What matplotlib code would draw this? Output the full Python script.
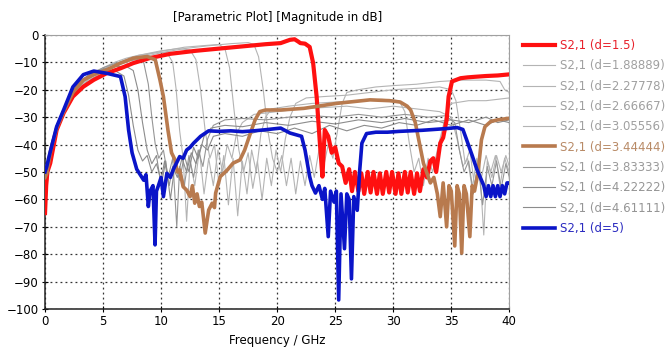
import matplotlib.pyplot as plt
from matplotlib.lines import Line2D

# S2,1 curves (frequency in GHz, magnitude in dB)
f_d150 = [0, 0.1, 0.2, 0.45, 1.0, 1.6, 2.4, 3.3, 4.2, 5.3, 6.5, 7.6, 9.0, 10.8, 13, 15, 17, 19, 20.3,
          21.1, 21.5, 21.8, 22.0, 22.4, 22.8, 23.1, 23.4, 23.7, 23.9, 24.1, 24.4, 24.7, 25.0, 25.3, 25.6,
          25.9, 26.2, 26.45, 26.7, 27.0, 27.25, 27.5, 27.8, 28.05, 28.3, 28.6, 28.85, 29.1, 29.4, 29.65,
          29.9, 30.2, 30.45, 30.7, 31.0, 31.25, 31.5, 31.8, 32.05, 32.3, 32.6, 32.9, 33.2, 33.45, 33.7,
          34.05, 34.3, 34.6, 34.77, 35.06, 35.8, 36.4, 37, 38, 39, 40]
s_d150 = [-65, -55, -50, -46.8, -34.7, -28.5, -22.5, -18.9, -16.4, -14, -12.2, -10.3, -8.5, -6.9, -5.8, -5,
          -4.2, -3.4, -3, -1.8, -1.6, -2.4, -3, -3.2, -4.4, -10.3, -22.5, -40.7, -51.7, -34.7, -37, -43,
          -41, -46.8, -48, -54, -49, -57, -50, -57, -50.5, -58, -50, -57.5, -50, -58, -50.5, -58, -50, -57.5,
          -50, -58, -50.5, -58, -50, -57.5, -50, -58, -50.5, -57, -49, -52, -46, -45, -50, -39.5, -37.5,
          -31, -22.5, -17, -15.8, -15.5, -15.3, -15, -14.8, -14.4]

f_d189 = [0, 0.5, 1, 2, 3, 4, 5, 6, 7, 8, 10, 12, 14, 16, 17.5, 18.0, 18.4, 18.8, 19.2, 19.6, 20, 20.4,
          20.8, 21.2, 21.6, 22, 22.4, 22.8, 23.2, 23.6, 24, 24.4, 24.8, 25.2, 25.6, 26, 27, 28.5, 30, 32,
          34, 36, 38, 39.2, 39.6, 40]
s_d189 = [-60, -45, -35, -25, -19.5, -16, -13.5, -11.5, -10, -8.5, -6.5, -5, -4, -3.2, -2.8, -3.5, -8,
          -20, -35, -45, -50, -44, -55, -45, -58, -46, -55, -44, -52, -42, -48, -40, -45, -35, -25, -21,
          -20, -19, -18.5, -18, -17, -16.5, -16.5, -17, -20, -21]

f_d228 = [0, 0.5, 1, 2, 3, 4, 5, 6, 7, 8, 10, 12, 14, 15, 15.5, 15.9, 16.3, 16.7, 17.1, 17.5, 17.9, 18.3,
          18.7, 19.1, 19.5, 19.9, 20.3, 20.7, 21.1, 21.6, 22.5, 24, 26, 28, 30, 32, 34, 35, 35.4, 35.8,
          36.2, 36.6, 37.0, 37.4, 37.8, 38.1, 38.5, 38.9, 39.3, 39.7, 40]
s_d228 = [-57, -44, -34, -24.5, -19, -15.5, -13, -11, -9.5, -8, -6, -4.5, -3.8, -3.5, -5, -12, -28, -42,
          -50, -43, -56, -46, -60, -45, -55, -42, -50, -38, -30, -25, -23, -22.5, -22, -21, -20, -19.5,
          -19, -20, -24, -35, -47, -42, -55, -45, -73, -46, -52, -44, -50, -44, -48]

f_d267 = [0, 0.5, 1, 2, 3, 4, 5, 6, 7, 8, 10, 11.5, 12.5, 13.0, 13.4, 13.8, 14.2, 14.6, 15.0, 15.4, 15.8,
          16.2, 16.6, 17.0, 17.4, 17.8, 18.2, 18.6, 19.0, 19.5, 21, 23, 25, 27, 29, 30.5, 31, 31.4, 31.8,
          32.2, 32.6, 33, 33.4, 33.8, 34.2, 34.6, 35, 36.5, 38, 40]
s_d267 = [-55, -43, -34, -24, -18.5, -15, -12.5, -10.5, -9, -7.5, -5.8, -5, -5.5, -9, -20, -35, -45, -40,
          -55, -44, -62, -45, -66, -46, -58, -42, -50, -36, -30, -27, -26, -25, -24.5, -24, -23.5, -24,
          -28, -40, -50, -45, -55, -45, -50, -42, -35, -28, -25, -24, -24, -23]

f_d306 = [0, 0.5, 1, 2, 3, 4, 5, 6, 7, 8, 9.5, 10.5, 11.0, 11.3, 11.6, 11.9, 12.2, 12.5, 12.9, 13.3, 13.7,
          14.1, 14.5, 14.9, 15.3, 15.7, 16.1, 16.5, 17, 18, 20, 22, 24, 26, 28, 30, 32, 34, 35, 35.5, 36,
          36.4, 36.8, 37.2, 37.6, 38, 38.4, 38.8, 39.2, 39.6, 40]
s_d306 = [-53, -42, -34, -24, -18, -14.5, -12, -10, -8.5, -7.5, -6.5, -6.5, -10, -20, -35, -45, -68, -46,
          -55, -42, -58, -45, -55, -42, -50, -40, -45, -36, -32, -29, -28, -27, -26.5, -26, -27, -26, -27,
          -28, -30, -38, -48, -45, -56, -45, -52, -44, -50, -44, -55, -45, -50]

f_d344 = [0, 0.15, 0.5, 1.0, 1.6, 2.4, 3.3, 4.2, 5.3, 6.5, 7.6, 8.8, 9.5, 9.9, 10.2, 10.6, 10.9, 11.2,
          11.4, 11.6, 11.9, 12.2, 12.5, 12.7, 12.9, 13.1, 13.3, 13.5, 13.8, 14.1, 14.4, 14.6, 14.7, 15.1,
          15.7, 16.2, 16.8, 17.2, 17.7, 18.1, 18.5, 19.0, 20.3, 22.3, 25.1, 28, 29.7, 30.6, 31.2, 31.5,
          31.9, 32.2, 32.6, 32.9, 33.2, 33.5, 33.8, 34.05, 34.3, 34.6, 34.8, 35.0, 35.3, 35.5, 35.7, 35.9,
          36.1, 36.3, 36.6, 36.8, 37.0, 37.3, 37.6, 37.9, 38.4, 39, 40]
s_d344 = [-52, -50.5, -42, -34, -28, -21, -16.5, -14.5, -12.8, -10.3, -8.5, -7.9, -9.1, -16.4, -22.5, -35,
          -43, -45.6, -50, -49.3, -55.4, -56.6, -59, -55, -61.4, -58, -62.6, -61, -72.3, -63.9, -61.4, -63,
          -57.7, -51.7, -49.3, -46.8, -45.6, -42, -35.8, -31, -28, -27.4, -27.4, -26.8, -25, -23.7, -24,
          -24.5, -26, -27.4, -32, -38.3, -46.8, -50.4, -54, -52, -58, -66.3, -54, -70, -55, -57, -77, -55,
          -58, -79.6, -55, -58, -73.6, -55, -57, -50.4, -38.3, -33.5, -31.6, -31, -30.4]

f_d383 = [0, 0.5, 1, 2, 3, 4, 5, 6, 7, 8, 8.5, 8.9, 9.2, 9.5, 9.8, 10.2, 10.6, 11.0, 11.35, 11.6, 12,
          12.4, 12.8, 13.2, 13.6, 14.0, 14.5, 15.5, 17, 19, 21, 23, 25, 27, 29, 31, 33, 34.5, 35.3, 35.7,
          36.1, 36.5, 36.9, 37.3, 37.7, 38.1, 38.5, 38.9, 39.3, 39.7, 40]
s_d383 = [-51, -41, -33, -23.5, -17.5, -14, -12, -10.5, -9.5, -9, -10, -18, -30, -40, -45, -42, -52, -45,
          -70, -48, -55, -44, -52, -42, -48, -38, -33, -31, -30.5, -31, -30, -29.5, -30, -29, -30, -29,
          -30, -29.5, -32, -42, -50, -46, -58, -47, -62, -48, -55, -46, -56, -47, -52]

f_d422 = [0, 0.5, 1, 2, 3, 4, 5, 6, 7, 7.6, 8.0, 8.4, 8.8, 9.2, 9.6, 10.0, 10.4, 10.8, 11.2, 11.6, 12.0,
          12.4, 12.8, 13.2, 13.7, 14.3, 15.5, 17, 19, 21, 23, 25, 27, 29, 31, 33, 35, 36.5, 38, 39, 40]
s_d422 = [-50, -41, -33, -23, -17, -14, -12.5, -11.5, -11.5, -13, -20, -32, -42, -47, -44, -55, -46, -60,
          -47, -53, -44, -50, -41, -45, -37, -34, -33, -33.5, -32, -33, -31.5, -32.5, -31, -32, -30.5,
          -32, -31, -32, -30, -32, -31]

f_d461 = [0, 0.5, 1, 2, 3, 4, 5, 6, 6.8, 7.2, 7.6, 8.0, 8.4, 8.8, 9.2, 9.6, 10.0, 10.3, 10.7, 11.0, 11.4,
          11.8, 12.2, 12.6, 13.0, 13.5, 14.0, 14.5, 15.5, 17, 18.5, 20, 21.5, 23, 24.5, 26, 27.5, 29,
          30.5, 32, 33.5, 35, 36.5, 38, 39, 40]
s_d461 = [-49, -40, -33, -23, -17, -14, -13, -13, -15, -22, -33, -42, -46, -44, -50, -47, -53, -46, -55,
          -48, -52, -45, -50, -43, -47, -40, -42, -37, -36, -37, -35, -36, -34, -36, -33, -35, -33, -34,
          -32, -33, -31, -33, -31, -33, -31, -32]

f_d500 = [0, 0.15, 0.43, 1.0, 1.6, 2.4, 3.3, 4.2, 5.3, 6.5, 6.9, 7.2, 7.5, 7.9, 8.2, 8.5, 8.7, 8.9, 9.05,
          9.3, 9.48, 9.6, 9.77, 10.0, 10.2, 10.5, 10.8, 11.06, 11.3, 11.6, 11.9, 12.2, 12.5, 12.8, 13.4,
          14.1, 15, 16, 17, 18, 19, 20.3, 21.1, 22.1, 22.4, 22.8, 23.0, 23.3, 23.6, 23.9, 24.1, 24.4,
          24.6, 24.9, 25.1, 25.3, 25.5, 25.8, 26.0, 26.2, 26.4, 26.6, 26.9, 27.1, 27.3, 27.7, 28.5, 29.5,
          30.5, 31.5, 32.5, 33.5, 34.5, 35.5, 36.0, 36.3, 36.8, 37.2, 37.5, 37.8, 38.0, 38.2, 38.4, 38.6,
          38.8, 39.0, 39.2, 39.4, 39.6, 39.8, 40]
s_d500 = [-50, -48, -43, -33.5, -27.4, -19, -14.5, -13.2, -14, -15.2, -22.5, -34.7, -43, -49, -51, -53,
          -51, -62.6, -57, -55, -76.6, -57, -55, -52, -59, -50.5, -52, -49, -47, -44.4, -45, -42, -41,
          -39.5, -37, -35, -35.2, -35, -35.3, -35, -34.6, -34, -35.8, -37, -42, -51.7, -55, -57.7, -55,
          -60, -56, -73.6, -57, -61, -57, -96.7, -58, -78, -58, -60, -89, -59, -64, -50, -39.5, -36,
          -35.5, -35.5, -35.2, -35, -34.8, -34.5, -34.2, -33.8, -34.5, -38, -44, -49, -52, -55, -59, -55,
          -59, -55, -59, -55, -59, -55, -58, -54, -54]

labels = ["S2,1 (d=1.5)", "S2,1 (d=1.88889)", "S2,1 (d=2.27778)", "S2,1 (d=2.66667)",
          "S2,1 (d=3.05556)", "S2,1 (d=3.44444)", "S2,1 (d=3.83333)", "S2,1 (d=4.22222)",
          "S2,1 (d=4.61111)", "S2,1 (d=5)"]
freqs = [f_d150, f_d189, f_d228, f_d267, f_d306, f_d344, f_d383, f_d422, f_d461, f_d500]
mags = [s_d150, s_d189, s_d228, s_d267, s_d306, s_d344, s_d383, s_d422, s_d461, s_d500]

col_line = ["#ff1010", "#b4b4b4", "#b4b4b4", "#b4b4b4", "#b4b4b4", "#b87a4e",
            "#969696", "#8c8c8c", "#8c8c8c", "#0a14c8"]
col_text = ["#e8202a", "#a0a0a0", "#a0a0a0", "#a0a0a0", "#a0a0a0", "#b88a66",
            "#9a9a9a", "#959595", "#959595", "#2a2ac0"]
widths = [3.0, 0.8, 0.8, 0.8, 0.8, 2.6, 0.8, 0.8, 0.8, 2.6]

fig = plt.figure(figsize=(6.69, 3.56), dpi=100)
ax = fig.add_axes([0.0673, 0.132, 0.694, 0.770])

# thin curves first, highlighted ones on top
order = [1, 2, 3, 4, 6, 7, 8, 5, 0, 9]
for i in order:
    ax.plot(freqs[i], mags[i], color=col_line[i], lw=widths[i], zorder=3 + (widths[i] > 1) + i * 0.01)

ax.set_xlim(0, 40)
ax.set_ylim(-100, 0)
ax.set_xticks(range(0, 41, 5))
ax.set_yticks(range(-100, 1, 10))
ax.grid(True, color="#333333", linestyle=(0, (1.5, 2.5)), linewidth=0.9)
ax.tick_params(direction="inout", length=5, width=0.8, labelsize=8.5, pad=2)
for s in ["top", "right"]:
    ax.spines[s].set_color("#a0a0a0")
for s in ["left", "bottom"]:
    ax.spines[s].set_color("#222222")
    ax.spines[s].set_linewidth(1.1)

ax.set_xlabel("Frequency / GHz", fontsize=8.5, labelpad=4)
ax.set_title("[Parametric Plot] [Magnitude in dB]", fontsize=8.5, pad=10)

handles = [Line2D([], [], color=col_line[i], lw=widths[i]) for i in range(10)]
leg = ax.legend(handles, labels, loc="upper left", bbox_to_anchor=(1.03, 0.985), frameon=False,
                fontsize=8.5, handlelength=2.7, handletextpad=0.4, labelspacing=0.62,
                borderpad=0, borderaxespad=0)
for t, c in zip(leg.get_texts(), col_text):
    t.set_color(c)

fig.savefig("out.png", dpi=100)
